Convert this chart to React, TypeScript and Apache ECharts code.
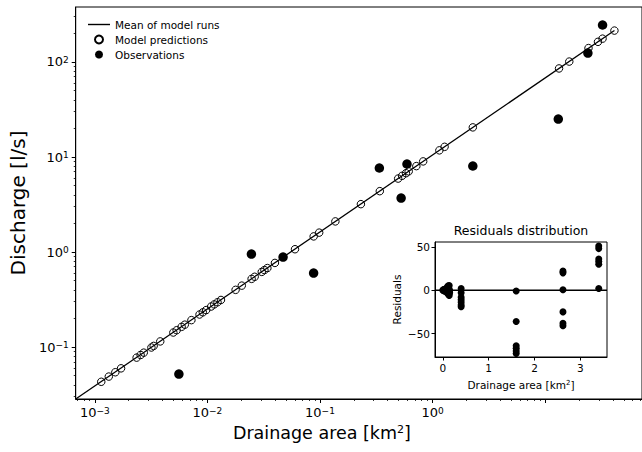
import React, { useEffect, useRef } from "react";
import * as echarts from "echarts";

// ---- main plot data ----
const predArea = [
  0.00114, 0.00133, 0.00152, 0.00171, 0.00235, 0.00255, 0.00272, 0.00318, 0.00333, 0.00381,
  0.00498, 0.00533, 0.0059, 0.0063, 0.00721, 0.00851, 0.0091, 0.00975, 0.0108, 0.0115,
  0.0123, 0.0132, 0.0178, 0.0202, 0.0247, 0.0263, 0.0304, 0.0321, 0.0341, 0.0398,
  0.06, 0.0879, 0.0984, 0.137, 0.231, 0.34, 0.495, 0.537, 0.581, 0.614,
  0.718, 0.826, 1.15, 1.28, 2.28, 13.3, 16.4, 24.3, 29.5, 32.4, 41.3,
];
const predDischarge = [
  0.0431, 0.0489, 0.0543, 0.0597, 0.0774, 0.0826, 0.0873, 0.0989, 0.1028, 0.1146,
  0.1422, 0.1503, 0.1633, 0.172, 0.192, 0.22, 0.232, 0.245, 0.267, 0.281,
  0.296, 0.313, 0.4, 0.443, 0.522, 0.549, 0.618, 0.646, 0.678, 0.768,
  1.07, 1.46, 1.6, 2.1, 3.19, 4.37, 5.93, 6.34, 6.75, 7.06,
  8.02, 8.99, 11.75, 12.8, 20.5, 85.5, 101, 140, 163, 176, 214,
];
const obsArea = [0.00558, 0.0246, 0.047, 0.0878, 0.337, 0.526, 0.593, 2.28, 13.1, 24.0, 32.4];
const obsDischarge = [0.052, 0.953, 0.886, 0.601, 7.66, 3.7, 8.44, 8.04, 25.1, 124, 245];
const meanArea = [0.000676, 41.3];
const meanDischarge = [0.0284, 214];

// ---- inset (residuals) data ----
const resArea = [
  0.0, 0.01, 0.02, 0.03, 0.04, 0.05, 0.06, 0.08, 0.09, 0.1, 0.11, 0.12, 0.13, 0.13, 0.14, 0.14, 0.15, 0.15,
  0.4, 0.4, 0.4, 0.4, 0.4, 0.4, 0.4,
  1.6, 1.6, 1.6, 1.6, 1.6, 1.6,
  2.62, 2.62, 2.62, 2.62, 2.62, 2.62,
  3.4, 3.4, 3.4, 3.4, 3.4, 3.4,
];
const resValue = [
  0, 0.5, -0.5, 1, -1, 0.5, -1.5, 2, -2, 4, -4, 5, -5, 3, -6, 5.5, 0, -3,
  2, -3, -8, -11, -14, -17, -19,
  -1, -36, -64, -67, -70, -73,
  22, 20, 0.5, -25, -38, -41,
  51, 48, 36, 33, 30, 2,
];

// ---- ticks ----
const xMajorTicks = [0.001, 0.01, 0.1, 1, 10];
const xLabelTicks = [0.001, 0.01, 0.1, 1];
const yMajorTicks = [0.1, 1, 10, 100];
const insetXTicks = [0, 1, 2, 3];
const insetYTicks = [-50, 0, 50];

const X_MIN = 0.000676;
const X_MAX = 72.6;
const Y_MIN = 0.0284;
const Y_MAX = 379;
const IX_MIN = -0.17;
const IX_MAX = 3.58;
const IY_MIN = -77;
const IY_MAX = 55.6;

function minorTicks(lo: number, hi: number): number[] {
  const out: number[] = [];
  for (let k = -5; k <= 3; k++) {
    for (let m = 2; m <= 9; m++) {
      const v = parseFloat((m * Math.pow(10, k)).toPrecision(6));
      if (v > lo && v < hi) out.push(v);
    }
  }
  return out;
}

const FONT = "DejaVu Sans";

function powLabel(v: number) {
  const e = Math.round(Math.log10(v));
  const s = e < 0 ? "\u2212" + -e : String(e);
  return "10{sup|" + s + "}";
}

const supRich = {
  sup: { fontSize: 9, verticalAlign: "top", color: "#000", fontFamily: FONT, padding: [0, 0, 4, 0] },
};

export default function App() {
  const ref = useRef<HTMLDivElement>(null);
  useEffect(() => {
    if (!ref.current) return;
    const chart = echarts.init(ref.current, undefined, { renderer: "svg" });
    const pred = predArea.map((a, i) => [a, predDischarge[i]]);
    const obs = obsArea.map((a, i) => [a, obsDischarge[i]]);
    const mean = meanArea.map((a, i) => [a, meanDischarge[i]]);
    const res = resArea.map((a, i) => [a, resValue[i]]);

    const black = "#000";
    const option: any = {
      animation: false,
      backgroundColor: "#fff",
      textStyle: { fontFamily: FONT, color: black },
      grid: [
        { left: 74, top: 7, right: -8, bottom: 53, show: true, borderColor: black, borderWidth: 1, backgroundColor: "transparent" },
        { left: 435, top: 242, width: 172, height: 115, show: true, borderColor: black, borderWidth: 1, backgroundColor: "#fff" },
      ],
      legend: {
        left: 83,
        top: 14,
        orient: "vertical",
        itemWidth: 22,
        itemHeight: 8,
        itemGap: 4,
        textStyle: { fontSize: 10.5, color: black, fontFamily: FONT },
        data: [
          { name: "Mean of model runs", icon: "path://M0 0H22V1.4H0Z" },
          { name: "Model predictions" },
          { name: "Observations" },
        ],
      },
      xAxis: [
        {
          type: "log",
          gridIndex: 0,
          position: "bottom",
          min: X_MIN,
          max: X_MAX,
          axisLine: { show: true, lineStyle: { color: black, width: 1 } },
          axisTick: { show: true, length: 4, customValues: xMajorTicks, lineStyle: { color: black } },
          axisLabel: {
            customValues: xLabelTicks,
            formatter: (v: number) => powLabel(v),
            fontSize: 13,
            color: black,
            margin: 7,
            rich: supRich,
          },
          splitLine: { show: false },
          name: "Drainage area [km{sup|2}]",
          nameLocation: "middle",
          nameGap: 24,
          nameTextStyle: {
            fontSize: 17.5,
            color: black,
            padding: [0, 74, 0, 0],
            rich: { sup: { fontSize: 11, verticalAlign: "top", padding: [0, 0, 6, 0], fontFamily: FONT } },
          },
        },
        {
          type: "log",
          gridIndex: 0,
          position: "bottom",
          min: X_MIN,
          max: X_MAX,
          axisLine: { show: false },
          axisTick: { show: true, length: 2, customValues: minorTicks(X_MIN, X_MAX), lineStyle: { color: black, width: 0.8 } },
          axisLabel: { show: false },
          splitLine: { show: false },
        },
        {
          type: "value",
          gridIndex: 1,
          position: "bottom",
          min: IX_MIN,
          max: IX_MAX,
          axisLine: { show: true, onZero: false, lineStyle: { color: black } },
          axisTick: { show: true, length: 3.5, customValues: insetXTicks, lineStyle: { color: black } },
          axisLabel: { customValues: insetXTicks, fontSize: 10.5, color: black, margin: 5 },
          splitLine: { show: false },
          name: "Drainage area [km{sup|2}]",
          nameLocation: "middle",
          nameGap: 22,
          nameTextStyle: {
            fontSize: 10.5,
            color: black,
            rich: { sup: { fontSize: 7, verticalAlign: "top", padding: [0, 0, 3, 0], fontFamily: FONT } },
          },
        },
      ],
      yAxis: [
        {
          type: "log",
          gridIndex: 0,
          position: "left",
          min: Y_MIN,
          max: Y_MAX,
          axisLine: { show: true, lineStyle: { color: black, width: 1 } },
          axisTick: { show: true, length: 4, customValues: yMajorTicks, lineStyle: { color: black } },
          axisLabel: {
            customValues: yMajorTicks,
            formatter: (v: number) => powLabel(v),
            fontSize: 13,
            color: black,
            margin: 7,
            rich: supRich,
          },
          splitLine: { show: false },
          name: "Discharge [l/s]",
          nameLocation: "middle",
          nameGap: 43,
          nameTextStyle: { fontSize: 20, color: black },
        },
        {
          type: "log",
          gridIndex: 0,
          position: "left",
          min: Y_MIN,
          max: Y_MAX,
          axisLine: { show: false },
          axisTick: { show: true, length: 2, customValues: minorTicks(Y_MIN, Y_MAX), lineStyle: { color: black, width: 0.8 } },
          axisLabel: { show: false },
          splitLine: { show: false },
        },
        {
          type: "value",
          gridIndex: 1,
          position: "left",
          min: IY_MIN,
          max: IY_MAX,
          axisLine: { show: true, onZero: false, lineStyle: { color: black } },
          axisTick: { show: true, length: 3.5, customValues: insetYTicks, lineStyle: { color: black } },
          axisLabel: {
            customValues: insetYTicks,
            fontSize: 10.5,
            color: black,
            margin: 5,
            formatter: (v: number) => String(v).replace("-", "\u2212"),
          },
          splitLine: { show: false },
          name: "Residuals",
          nameLocation: "middle",
          nameGap: 33,
          nameTextStyle: { fontSize: 10.5, color: black },
        },
      ],
      graphic: [
        {
          type: "text",
          x: 521,
          y: 230,
          style: { text: "Residuals distribution", font: "12.5px " + FONT, fill: black, align: "center", verticalAlign: "middle" },
        },
      ],
      series: [
        {
          name: "Mean of model runs",
          type: "line",
          xAxisIndex: 0,
          yAxisIndex: 0,
          data: mean,
          symbol: "none",
          lineStyle: { color: black, width: 1.3 },
          itemStyle: { color: black, opacity: 1 },
          z: 2,
        },
        {
          name: "Model predictions",
          type: "scatter",
          xAxisIndex: 0,
          yAxisIndex: 0,
          data: pred,
          symbol: "circle",
          symbolSize: 7.5,
          itemStyle: { color: "rgba(255,255,255,0)", borderColor: black, borderWidth: 1, opacity: 1 },
          z: 3,
        },
        {
          name: "Observations",
          type: "scatter",
          xAxisIndex: 0,
          yAxisIndex: 0,
          data: obs,
          symbol: "circle",
          symbolSize: 9.5,
          itemStyle: { color: black, opacity: 1 },
          z: 4,
        },
        {
          name: "zero",
          type: "line",
          xAxisIndex: 2,
          yAxisIndex: 2,
          data: [[IX_MIN, 0], [IX_MAX, 0]],
          symbol: "none",
          lineStyle: { color: black, width: 1.5 },
          z: 5,
        },
        {
          name: "residuals",
          type: "scatter",
          xAxisIndex: 2,
          yAxisIndex: 2,
          data: res,
          symbol: "circle",
          symbolSize: 7,
          itemStyle: { color: black, opacity: 1 },
          z: 6,
        },
      ],
    };
    chart.setOption(option);
    return () => chart.dispose();
  }, []);
  return (
    <div
      ref={ref}
      style={{ position: "fixed", left: 0, top: 0, width: 642, height: 452, background: "#fff" }}
    />
  );
}
